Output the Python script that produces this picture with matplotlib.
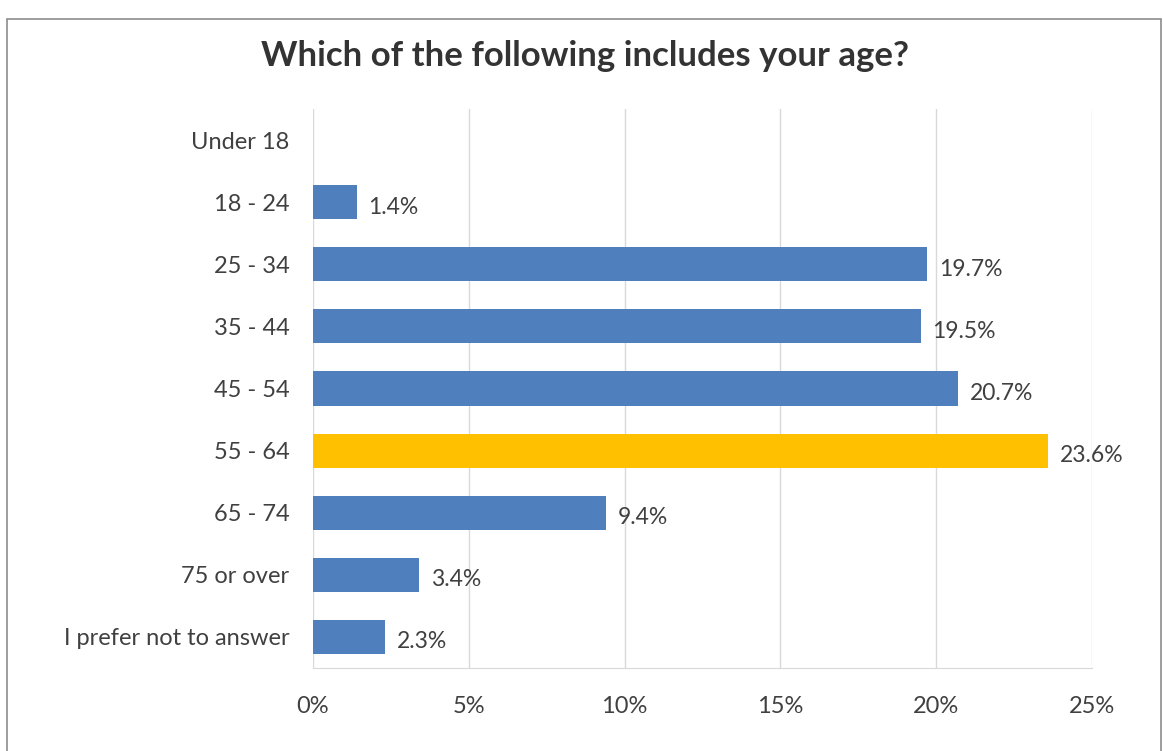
import matplotlib
matplotlib.use("Agg")
import matplotlib.pyplot as plt
from matplotlib.patches import Rectangle
from matplotlib.ticker import FuncFormatter

plt.rcParams.update({"font.family": ["Lato", "DejaVu Sans"]})

categories = ["Under 18", "18 - 24", "25 - 34", "35 - 44", "45 - 54",
              "55 - 64", "65 - 74", "75 or over", "I prefer not to answer"]
shares = [0.0, 1.4, 19.7, 19.5, 20.7, 23.6, 9.4, 3.4, 2.3]
highlight = "55 - 64"
labels = ["" if v == 0 else f"{v:.1f}%" for v in shares]

BLUE, GOLD, TEXT, GRID = "#4F7FBC", "#FFC000", "#404040", "#D9D9D9"

fig = plt.figure(figsize=(11.63, 7.51), dpi=100)
fig.patches.append(Rectangle((0.006, -0.01), 0.992, 0.985, transform=fig.transFigure,
                             fill=False, edgecolor="#8C8C8C", linewidth=1.2))
ax = fig.add_axes([0.2691, 0.1105, 0.6698, 0.7444])

y = list(range(len(categories)))
colors = [GOLD if c == highlight else BLUE for c in categories]
bars = ax.barh(y, shares, height=0.55, color=colors, zorder=3)
for bar, lab in zip(bars, labels):
    if lab:
        ax.text(bar.get_width() + 0.38, bar.get_y() + bar.get_height() / 2 + 0.08, lab,
                va="center", ha="left", fontsize=16.5, color=TEXT)

ax.set_xlim(0, 25)
ax.set_ylim(len(categories) - 0.5, -0.5)
ax.set_xticks(range(0, 26, 5))
ax.xaxis.set_major_formatter(FuncFormatter(lambda v, _: f"{v:.0f}%"))
ax.set_yticks(y)
ax.set_yticklabels(categories)
ax.tick_params(axis="both", length=0, labelsize=17, colors=TEXT)
ax.tick_params(axis="x", pad=20)
ax.tick_params(axis="y", pad=17)
ax.grid(axis="x", color=GRID, linewidth=1, zorder=0)
for side in ("top", "right", "left"):
    ax.spines[side].set_visible(False)
ax.spines["bottom"].set_color(GRID)

fig.text(0.503, 0.925, "Which of the following includes your age?", ha="center", va="center",
         fontsize=25, fontweight="bold", color="#333333")

fig.savefig("out.png", dpi=100)
